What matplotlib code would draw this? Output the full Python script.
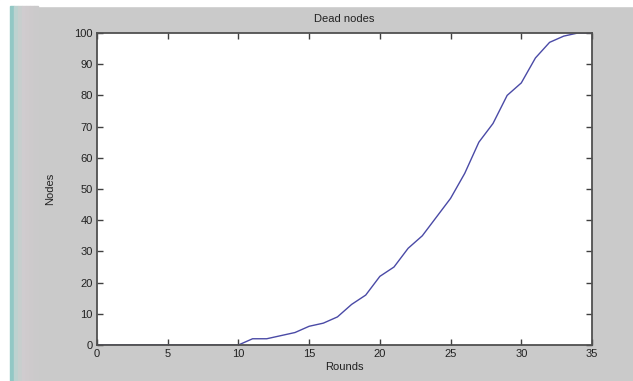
#!/usr/bin/env python3
"""
Dead nodes per round - MATLAB style line plot.
"""

import matplotlib
matplotlib.use('Agg')
import matplotlib.pyplot as plt
from matplotlib.patches import Rectangle

# data
rounds = [0, 5, 10, 11, 12, 13, 14, 15, 16, 17, 18, 19, 20, 21, 22, 23,
          24, 25, 26, 27, 28, 29, 30, 31, 32, 33, 34, 35]
dead_nodes = [0, 0, 0, 2, 2, 3, 4, 6, 7, 9, 13, 16, 22, 25, 31, 35,
              41, 47, 55, 65, 71, 80, 84, 92, 97, 99, 100, 100]
x_ticks = [0, 5, 10, 15, 20, 25, 30, 35]
y_ticks = [0, 10, 20, 30, 40, 50, 60, 70, 80, 90, 100]

plt.rcParams['font.family'] = ['Liberation Sans', 'DejaVu Sans']

W, H = 633, 381
fig = plt.figure(figsize=(W / 100, H / 100), dpi=100, facecolor='#cacaca')

# window-ish decorations on the left / top edge
fig.patches.append(Rectangle((0, 1 - 6 / H), 1, 6 / H, transform=fig.transFigure,
                             color='white', zorder=-5))
fig.patches.append(Rectangle((0, 0), 10 / W, 1, transform=fig.transFigure,
                             color='white', zorder=-5))
fig.patches.append(Rectangle((10 / W, 0), 4 / W, 1 - 6 / H, transform=fig.transFigure,
                             color='#92c8c5', zorder=-4))
# faint gradient next to the teal strip
grad = ['#bcd2d0', '#c8cfce', '#d0cccf', '#cfcbcd', '#cdcacc', '#cbcacb']
for i, c in enumerate(grad):
    fig.patches.append(Rectangle(((14 + 4 * i) / W, 0), 4 / W, 1 - 6 / H,
                                 transform=fig.transFigure, color=c, zorder=-4))

ax = fig.add_axes([97 / W, 36 / H, 495 / W, 312 / H])
ax.set_facecolor('white')

ax.plot(rounds, dead_nodes, color='#4a4aa6', linewidth=1.0)

ax.set_xlim(0, 35)
ax.set_ylim(0, 100)
ax.set_xticks(x_ticks)
ax.set_yticks(y_ticks)

ax.tick_params(direction='in', length=4, width=1, colors='#404040',
               labelsize=8, labelcolor='#222222',
               top=True, right=True, pad=3)
for spine in ax.spines.values():
    spine.set_color('#505050')
    spine.set_linewidth(1.3)

ax.set_title('Dead nodes', fontsize=8, color='#222222', pad=8)
ax.set_xlabel('Rounds', fontsize=8, color='#222222', labelpad=2)
ax.set_ylabel('Nodes', fontsize=8, color='#222222', labelpad=14)

plt.savefig('out.png', dpi=100, facecolor=fig.get_facecolor())
